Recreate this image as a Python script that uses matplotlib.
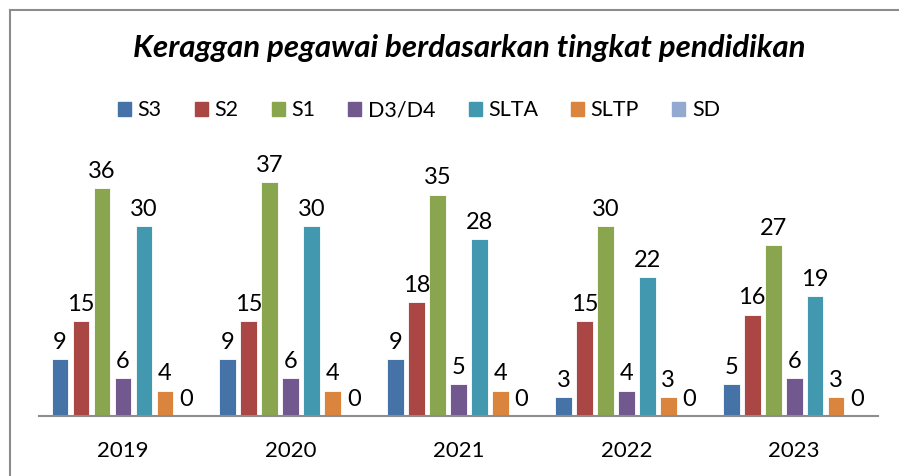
import numpy as np
import matplotlib
matplotlib.use("Agg")
import matplotlib.pyplot as plt
from matplotlib.lines import Line2D

plt.rcParams['font.family'] = ['Lato', 'DejaVu Sans']

tahun = ['2019', '2020', '2021', '2022', '2023']
jenjang = ['S3', 'S2', 'S1', 'D3/D4', 'SLTA', 'SLTP', 'SD']
warna = ['#4572A7', '#AA4643', '#89A54E', '#71588F', '#4198AF', '#DB843D', '#93A9CF']

s3 = [9, 9, 9, 3, 5]
s2 = [15, 15, 18, 15, 16]
s1 = [36, 37, 35, 30, 27]
d3d4 = [6, 6, 5, 4, 6]
slta = [30, 30, 28, 22, 19]
sltp = [4, 4, 4, 3, 3]
sd = [0, 0, 0, 0, 0]
nilai = [s3, s2, s1, d3d4, slta, sltp, sd]

fig = plt.figure(figsize=(8.99, 4.76), dpi=100)
ax = fig.add_axes([0.0434, 0.126, 0.9333, 0.5316])

x = np.arange(len(tahun))
slot = 0.125
lebar = 0.0997
for i, (nama, data) in enumerate(zip(jenjang, nilai)):
    pos = x - 3 * slot + i * slot
    ax.bar(pos, data, width=lebar, color=warna[i], edgecolor='white',
           linewidth=0.6, label=nama)
    for px, v in zip(pos, data):
        ax.text(px, v + 1.0, str(v), ha='center', va='bottom', fontsize=17,
                color='black')

ax.set_xlim(-0.5, 4.5)
ax.set_ylim(0, 40)
ax.set_yticks([])
ax.set_xticks(x)
ax.set_xticklabels(tahun, fontsize=16)
ax.tick_params(axis='x', length=0, pad=18)
for s in ['left', 'right', 'top']:
    ax.spines[s].set_visible(False)
ax.spines['bottom'].set_color('#8c8c8c')
ax.spines['bottom'].set_linewidth(1.5)

fig.text(0.522, 0.899, 'Keraggan pegawai berdasarkan tingkat pendidikan',
         ha='center', va='center', fontsize=22.5, fontweight='bold',
         fontstyle='italic')

handles = [plt.Rectangle((0, 0), 1, 1, color=c) for c in warna]
fig.legend(handles, jenjang, loc='center', bbox_to_anchor=(0.466, 0.768),
           ncol=7, frameon=False, fontsize=15.5, handlelength=0.6,
           handleheight=0.6, handletextpad=0.3, columnspacing=1.55)

# bingkai chart
fig.add_artist(Line2D([0.011, 1.0], [0.979, 0.979], transform=fig.transFigure,
                      color='#8c8c8c', linewidth=1.5))
fig.add_artist(Line2D([0.011, 0.011], [0.0, 0.979], transform=fig.transFigure,
                      color='#8c8c8c', linewidth=1.5))

fig.savefig('out.png', dpi=100)
